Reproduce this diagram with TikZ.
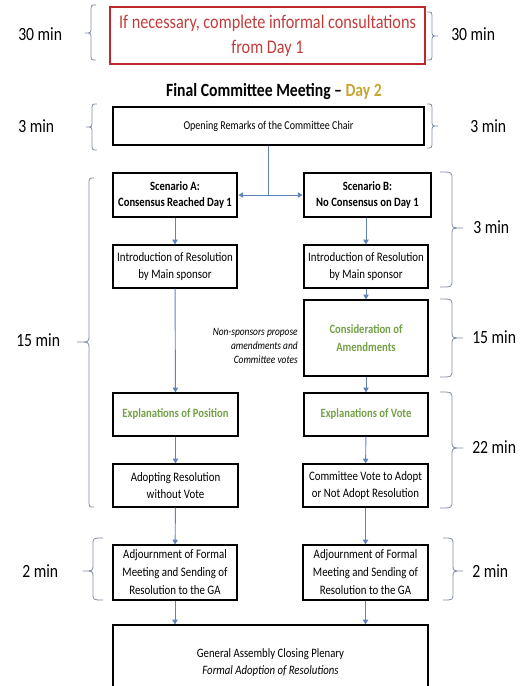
\documentclass[tikz,border=0pt]{standalone}
\usepackage{fontspec}
\setmainfont{Carlito}[FakeStretch=0.84]
\usetikzlibrary{arrows.meta}
\definecolor{redline}{RGB}{190,40,45}
\definecolor{redtext}{RGB}{195,60,60}
\definecolor{goldtext}{RGB}{200,165,50}
\definecolor{greentext}{RGB}{115,160,70}
\definecolor{bracecol}{RGB}{125,140,165}
\definecolor{arrowcol}{RGB}{95,130,185}
\tikzset{
  box/.style={draw=black, line width=0.9pt, inner sep=0pt, align=center, minimum width=93pt, minimum height=32.25pt, font=\fontsize{9.7}{13}\selectfont},
  thickbox/.style={box, line width=2.2pt, minimum height=33pt, font=\bfseries\fontsize{9.5}{12}\selectfont},
  greenlbl/.style={text=greentext, font=\bfseries\fontsize{9.5}{13}\selectfont},
  flow/.style={draw=arrowcol, line width=0.7pt, -{Triangle[width=4pt,length=3.5pt]}},
  bracestyle/.style={draw=bracecol, line width=0.6pt},
  timelbl/.style={inner sep=0pt, font=\fontsize{14}{16}\selectfont},
}
\newcommand{\timebrace}[6]{% vertical x, hook x, tip x, top y, bottom y, mid y
  \draw[bracestyle] (#2,#4) .. controls (#1,#4) .. (#1,#4+7) -- (#1,#6-6)
    .. controls (#1,#6) .. (#3,#6) .. controls (#1,#6) .. (#1,#6+6)
    -- (#1,#5-7) .. controls (#1,#5) .. (#2,#5);}
\begin{document}
\begin{tikzpicture}[x=0.75pt,y=-0.75pt]
\useasboundingbox (0,0) rectangle (528,686);
% boxes
\node[box, draw=redline, line width=1.4pt, text=redtext, minimum width=236.25pt, minimum height=42.75pt, font=\fontsize{14.5}{18.75}\selectfont] (informal) at (267.5,35.5) {If necessary, complete informal consultations\\from Day 1};
\node[inner sep=0pt, font=\bfseries\fontsize{14}{16}\selectfont] (title) at (274,92) {Final Committee Meeting -- \textcolor{goldtext}{Day 2}};
\node[box, minimum width=233.25pt, minimum height=28.5pt, font=\fontsize{9}{12}\selectfont] (opening) at (268.5,126) {Opening Remarks of the Committee Chair};
\node[thickbox] (scenA) at (175,195) {Scenario A:\\Consensus Reached Day 1};
\node[thickbox, minimum width=95.25pt] (scenB) at (367.5,195) {Scenario B:\\No Consensus on Day 1};
\node[box] (introA) at (175,266.5) {Introduction of Resolution\\by Main sponsor};
\node[box] (introB) at (366,266.5) {Introduction of Resolution\\by Main sponsor};
\node[box, minimum height=57pt, greenlbl] (cons) at (366,338) {Consideration of\\Amendments};
\node[inner sep=0pt, anchor=east, align=right, font=\itshape\fontsize{8.4}{10.5}\selectfont] (nonsp) at (298,346) {Non-sponsors propose\\amendments and\\Committee votes};
\node[box, minimum width=93.75pt, greenlbl] (explA) at (175.5,414.5) {Explanations of Position};
\node[box, greenlbl] (explB) at (366,414.5) {Explanations of Vote};
\node[box, minimum width=93.75pt] (adoptA) at (175.5,485.5) {Adopting Resolution\\without Vote};
\node[box, minimum width=93.75pt] (voteB) at (365.5,485.5) {Committee Vote to Adopt\\or Not Adopt Resolution};
\node[box, minimum height=41.25pt, font=\fontsize{9.7}{13.5}\selectfont] (adjA) at (175,572.5) {Adjournment of Formal\\Meeting and Sending of\\Resolution to the GA};
\node[box, minimum width=93.75pt, minimum height=41.25pt, font=\fontsize{9.7}{13.5}\selectfont] (adjB) at (365.5,572.5) {Adjournment of Formal\\Meeting and Sending of\\Resolution to the GA};
\node[box, minimum width=236.25pt, minimum height=56.25pt, font=\fontsize{9.6}{13}\selectfont] (ga) at (270.5,662.5) {General Assembly Closing Plenary\\\textit{Formal Adoption of Resolutions}};
% connectors
\coordinate (split) at (opening.south |- scenA.east);
\draw[draw=arrowcol, line width=0.7pt] (opening.south) -- (split);
\draw[flow] (split) -- (scenA.east);
\draw[flow] (split) -- (scenB.west);
\draw[flow] (scenA) -- (introA);
\draw[flow] (introA) -- (explA);
\draw[flow] (explA) -- (adoptA);
\draw[flow] (adoptA) -- (adjA);
\draw[flow] (adjA.south) -- (adjA.south |- ga.north);
\draw[flow] (scenB.south -| introB) -- (introB);
\draw[flow] (introB) -- (cons);
\draw[flow] (cons) -- (explB);
\draw[flow] (explB) -- (voteB);
\draw[flow] (voteB.south -| adjB) -- (adjB);
\draw[flow] (adjB.south) -- (adjB.south |- ga.north);
% braces
\timebrace{91}{96}{85}{5}{60}{33}
\timebrace{432}{427}{438}{12}{60}{36}
\timebrace{92}{97}{86}{104}{150}{127}
\timebrace{432}{427}{438}{104}{148}{126}
\timebrace{89}{94}{77}{178}{507}{342}
\timebrace{452}{440}{463}{172}{287}{228}
\timebrace{452}{440}{463}{299}{377}{338}
\timebrace{452}{440}{463}{392}{508}{448}
\timebrace{93}{103}{83}{538}{600}{571}
\timebrace{453}{443}{463}{538}{600}{571}
% time labels
\node[timelbl, anchor=west] (t30l) at (18,34) {30 min};
\node[timelbl, anchor=west] (t30r) at (451,34) {30 min};
\node[timelbl, anchor=west] (t3l) at (18,126) {3 min};
\node[timelbl, anchor=west] (t3r) at (470,126) {3 min};
\node[timelbl, anchor=west] (t15l) at (16,340) {15 min};
\node[timelbl, anchor=west] (t3rb) at (473,227) {3 min};
\node[timelbl, anchor=west] (t15r) at (472,337) {15 min};
\node[timelbl, anchor=west] (t22r) at (472,447) {22 min};
\node[timelbl, anchor=west] (t2l) at (22,571) {2 min};
\node[timelbl, anchor=west] (t2r) at (472,571) {2 min};
\end{tikzpicture}
\end{document}
